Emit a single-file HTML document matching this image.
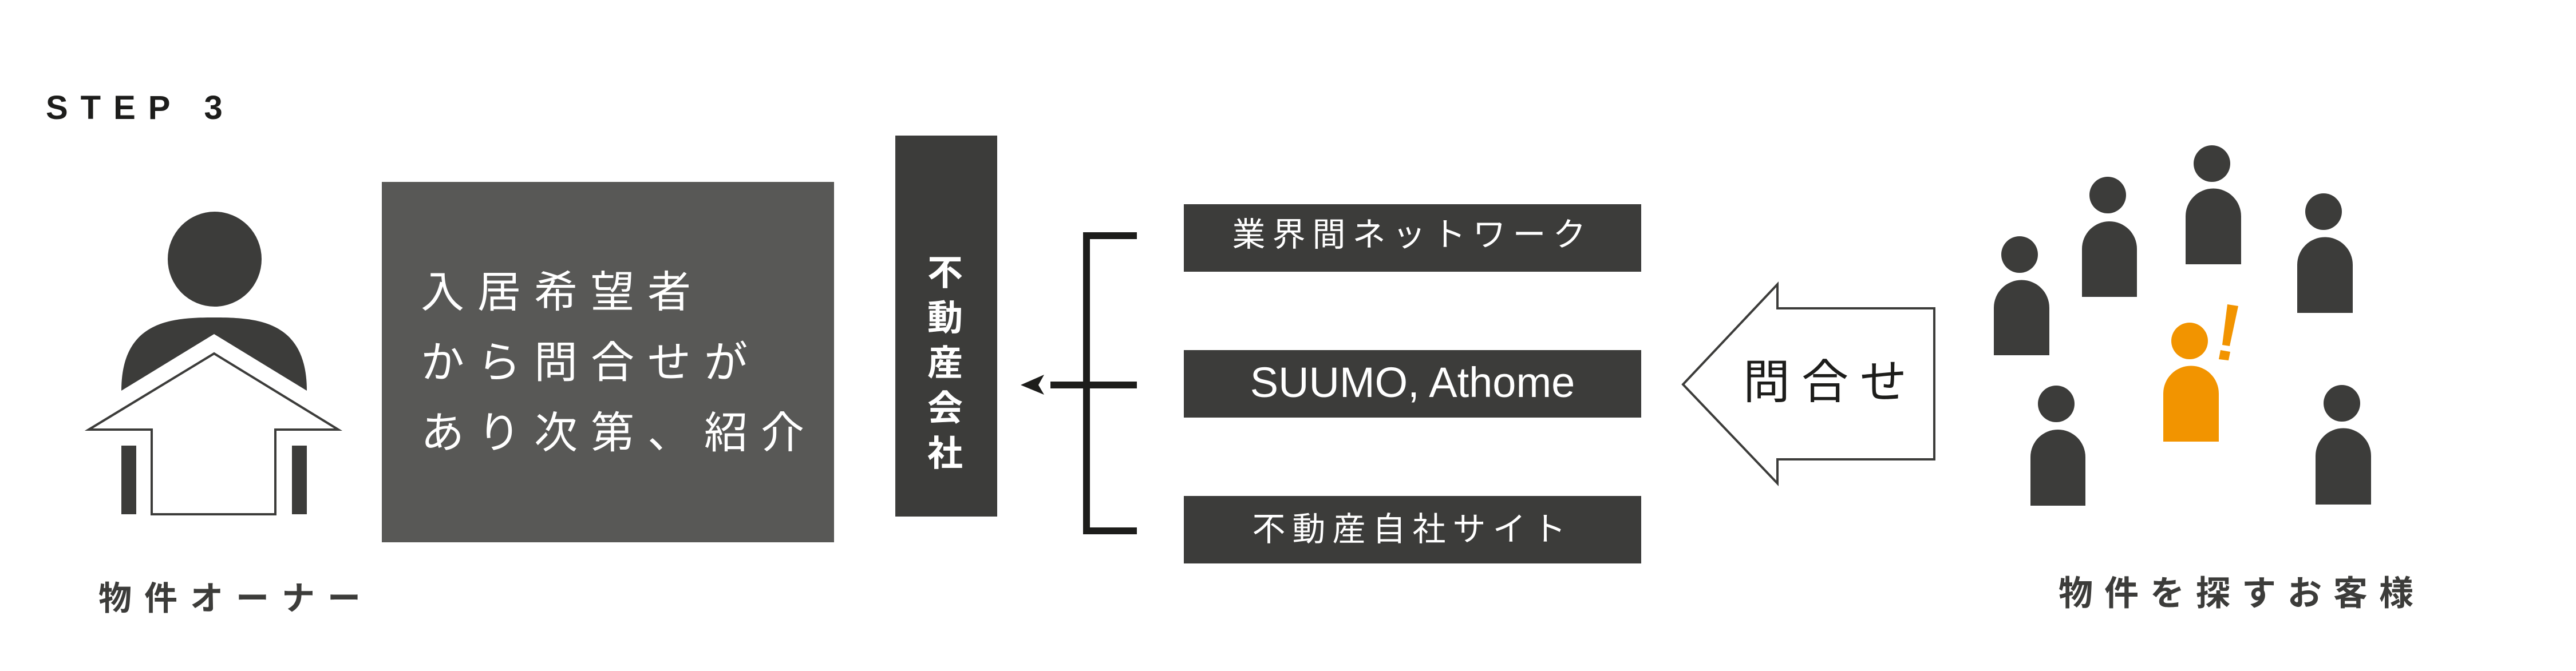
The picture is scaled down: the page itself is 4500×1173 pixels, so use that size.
<!DOCTYPE html>
<html><head><meta charset="utf-8"><style>
html,body{margin:0;padding:0;background:#fff;}
body{width:4500px;height:1173px;position:relative;overflow:hidden;font-family:"Liberation Sans","Noto Sans CJK JP",sans-serif;}
.t{position:absolute;white-space:nowrap;line-height:1;}
</style></head><body>
<svg width="4500" height="1173" style="position:absolute;left:0;top:0">
<ellipse cx="375" cy="453" rx="82" ry="83" fill="#3c3c3a"/>
<path d="M212 683 C212 560 300 555 374 555 C448 555 536 560 536 683 Z" fill="#3c3c3a"/>
<polygon points="212,683 374,584 536,683 536,760 212,760" fill="#fff"/>
<polygon points="155,751 374,618 591,751 481,751 481,899 265,899 265,751" fill="#fff" stroke="#3c3c3a" stroke-width="4"/>
<rect x="212" y="779" width="26" height="120" fill="#3c3c3a"/>
<rect x="510" y="779" width="26" height="120" fill="#3c3c3a"/>
<rect x="667" y="318" width="790" height="630" fill="#585856"/>
<rect x="1564" y="237" width="178" height="666" fill="#3c3c3a"/>
<rect x="2068" y="357" width="799" height="118" fill="#3c3c3a"/>
<rect x="2068" y="612" width="799" height="118" fill="#3c3c3a"/>
<rect x="2068" y="867" width="799" height="118" fill="#3c3c3a"/>
<path d="M1986 412 H1898 V928 H1986" fill="none" stroke="#1d1d1b" stroke-width="12"/>
<line x1="1835" y1="673" x2="1986" y2="673" stroke="#1d1d1b" stroke-width="12"/>
<polygon points="1783,673 1824,655 1814,673 1824,690" fill="#1d1d1b"/>
<polygon points="2940,672 3105,497 3105,539 3379,539 3379,803 3105,803 3105,845" fill="#fff" stroke="#3c3c3a" stroke-width="4"/>
<g fill="#3c3c3a">
<ellipse cx="3528" cy="445" rx="32" ry="32"/><path d="M3483 621 V538 A48 48 0 0 1 3580 538 V621Z"/>
<ellipse cx="3682" cy="341" rx="32" ry="32"/><path d="M3637 519 V435 A48 48 0 0 1 3733 435 V519Z"/>
<ellipse cx="3864" cy="286" rx="32" ry="32"/><path d="M3818 462 V378 A48 48 0 0 1 3915 378 V462Z"/>
<ellipse cx="4059" cy="370" rx="32" ry="32"/><path d="M4013 547 V463 A48 48 0 0 1 4110 463 V547Z"/>
<ellipse cx="3592" cy="706" rx="32" ry="32"/><path d="M3547 884 V799 A48 48 0 0 1 3643 799 V884Z"/>
<ellipse cx="4091" cy="705" rx="32" ry="32"/><path d="M4045 882 V797 A48 48 0 0 1 4142 797 V882Z"/>
</g>
<g fill="#f29400">
<ellipse cx="3825" cy="596" rx="32" ry="32"/><path d="M3779 772 V688 A48 48 0 0 1 3876 688 V772Z"/>
<polygon points="3891,532 3910,535 3895,605 3882,603"/>
<polygon points="3879,612 3896,615 3893,630 3876,628"/>
</g>
</svg>
<div class="t" style="left:80px;top:160px;font-size:58px;font-weight:bold;letter-spacing:22px;color:#1d1d1b">STEP 3</div>
<div class="t" style="left:172px;top:1018px;font-size:58px;font-weight:bold;letter-spacing:22px;color:#3c3c3a">物件オーナー</div>
<div class="t" style="left:735px;top:450px;font-size:76px;letter-spacing:23px;color:#fff;line-height:123px">入居希望者<br>から問合せが<br>あり次第、紹介</div>
<div class="t" style="left:1620px;top:438px;font-size:62px;font-weight:bold;color:#fff;line-height:79px;width:62px;white-space:normal;text-align:center">不<br>動<br>産<br>会<br>社</div>
<div class="t" style="left:2068px;top:382px;width:799px;text-align:center;font-size:58px;letter-spacing:12px;color:#fff">業界間ネットワーク</div>
<div class="t" style="left:2068px;top:632px;width:799px;text-align:center;font-size:74px;color:#fff">SUUMO, Athome</div>
<div class="t" style="left:2068px;top:897px;width:799px;text-align:center;font-size:58px;letter-spacing:12px;color:#fff">不動産自社サイト</div>
<div class="t" style="left:3045px;top:628px;font-size:82px;letter-spacing:20px;color:#1d1d1b">問合せ</div>
<div class="t" style="left:3596px;top:1008px;font-size:60px;font-weight:bold;letter-spacing:20px;color:#3c3c3a">物件を探すお客様</div>
</body></html>
